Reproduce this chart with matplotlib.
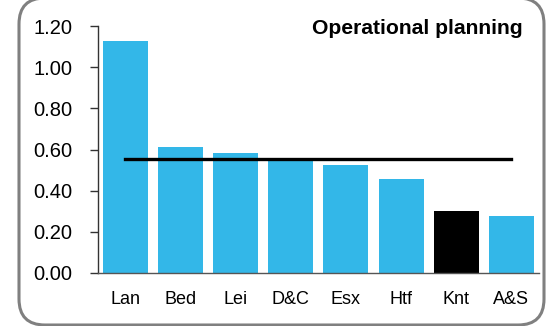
import matplotlib
matplotlib.use("Agg")
import matplotlib.pyplot as plt
from matplotlib.patches import FancyBboxPatch

plt.rcParams['font.family'] = ['Liberation Sans', 'DejaVu Sans']

categories = ["Lan", "Bed", "Lei", "D&C", "Esx", "Htf", "Knt", "A&S"]
values = [1.127, 0.614, 0.583, 0.553, 0.525, 0.457, 0.301, 0.277]
benchmark = [0.555] * len(categories)
highlight = "Knt"
title = "Operational planning"
yticks = [0.0, 0.2, 0.4, 0.6, 0.8, 1.0, 1.2]

blue = "#33B7E8"
colors = ["#000000" if c == highlight else blue for c in categories]

W, H = 552, 326
fig = plt.figure(figsize=(W / 100, H / 100), dpi=100)

# background layer in pixel units for the rounded grey frame
bg = fig.add_axes([0, 0, 1, 1], zorder=-1)
bg.set_xlim(0, W)
bg.set_ylim(H, 0)
bg.axis("off")
frame = FancyBboxPatch((19, -2), 544 - 19, 325 - (-2),
                       boxstyle="round,pad=0,rounding_size=26",
                       fill=False, edgecolor="#808080", linewidth=2.2)
bg.add_patch(frame)

ax = fig.add_axes([97.5 / W, 53 / H, (539 - 97.5) / W, (273 - 26) / H])
ax.patch.set_alpha(0)
x = range(len(categories))
ax.bar(x, values, width=0.815, color=colors, zorder=2)
ax.plot(x, benchmark, color="black", linewidth=2.4, zorder=3)

ax.set_xlim(-0.5, len(categories) - 0.5)
ax.set_ylim(0, 1.2)
ax.set_yticks(yticks)
ax.set_yticklabels([f"{v:.2f}" for v in yticks], fontsize=14.5)
ax.set_xticks(list(x))
ax.set_xticklabels(categories, fontsize=13)

for s in ["top", "right"]:
    ax.spines[s].set_visible(False)
ax.spines["left"].set_color("#333333")
ax.spines["bottom"].set_color("#555555")
ax.spines["left"].set_linewidth(1.0)
ax.spines["bottom"].set_linewidth(1.0)
ax.tick_params(axis="y", length=6, width=1.0, color="#333333", pad=12)
ax.tick_params(axis="x", length=0, pad=13)

fig.text(523 / W, 1 - 34 / H, title, ha="right", va="baseline",
         fontsize=15.2, fontweight="bold")

fig.savefig("out.png", dpi=100)
